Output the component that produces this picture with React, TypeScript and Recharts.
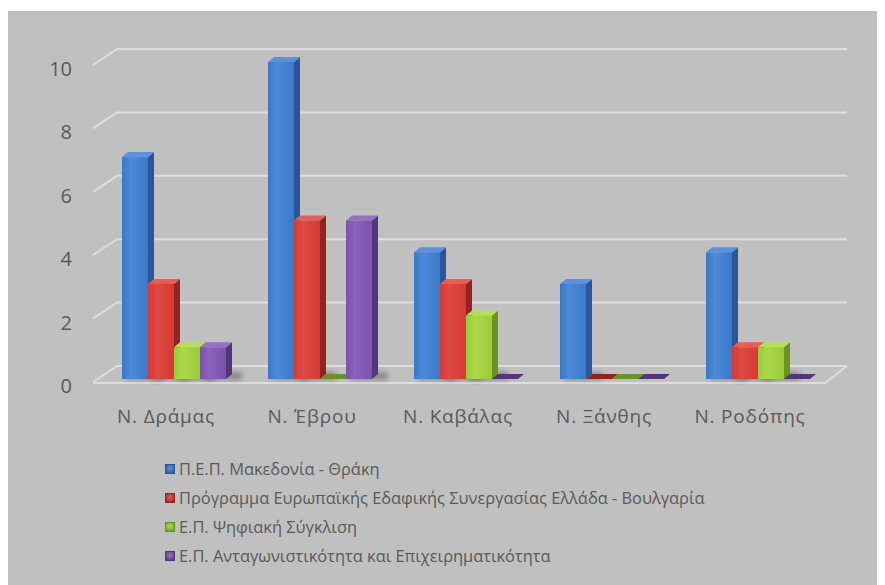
import React from "react";
import { BarChart, Bar, XAxis, YAxis, CartesianGrid, Legend } from "recharts";

const categories = ["Ν. Δράμας", "Ν. Έβρου", "Ν. Καβάλας", "Ν. Ξάνθης", "Ν. Ροδόπης"];
const seriesNames = [
  "Π.Ε.Π. Μακεδονία - Θράκη",
  "Πρόγραμμα Ευρωπαϊκής Εδαφικής Συνεργασίας Ελλάδα - Βουλγαρία",
  "Ε.Π. Ψηφιακή Σύγκλιση",
  "Ε.Π. Ανταγωνιστικότητα και Επιχειρηματικότητα",
];
const pepValues = [7, 10, 4, 3, 4];
const interregValues = [3, 5, 3, 0, 1];
const digitalValues = [1, 0, 2, 0, 1];
const competValues = [1, 5, 0, 0, 0];
const yTicks = [0, 2, 4, 6, 8, 10];

const KEYS = ["pep", "interreg", "digital", "compet"];
const COLORS = [
  { front: "#3b78c8", light: "#4d8ad8", side: "#2a5699", top: "#5a92dc" },
  { front: "#d43a33", light: "#e04a42", side: "#92231f", top: "#e65e56" },
  { front: "#9acb38", light: "#abd84a", side: "#6a9324", top: "#b6de5c" },
  { front: "#7b53ad", light: "#8a62bc", side: "#513679", top: "#9672c4" },
];

const data = categories.map((name, i) => ({
  name,
  pep: pepValues[i],
  interreg: interregValues[i],
  digital: digitalValues[i],
  compet: competValues[i],
}));

const FONT = "'Open Sans', sans-serif";
const TEXT = "#595959";
const GRID = "#dedede";
const DX = 6;
const DY = 5;
const SHIFT = 9;
const PLOT_BOTTOM = 368;

// 3D-looking box: front face, right side, top face
const Box = (props: any) => {
  const { x, y, width, height, idx } = props;
  const c = COLORS[idx];
  const fx = x + SHIFT;
  const w = width;
  const h = Math.max(height, 0);
  const base = y + h;
  if (h < 0.5) {
    return (
      <g>
        <polygon
          points={`${fx},${base} ${fx + DX},${base - DY} ${fx + w + DX},${base - DY} ${fx + w},${base}`}
          fill={c.side}
        />
      </g>
    );
  }
  return (
    <g>
      <rect x={fx + 4} y={base - 7} width={w + 12} height={8} fill="rgba(0,0,0,0.28)" filter="url(#soft)" />
      <polygon
        points={`${fx + w},${y} ${fx + w + DX},${y - DY} ${fx + w + DX},${base - DY} ${fx + w},${base}`}
        fill={c.side}
      />
      <polygon
        points={`${fx},${y} ${fx + DX},${y - DY} ${fx + w + DX},${y - DY} ${fx + w},${y}`}
        fill={c.top}
      />
      <rect x={fx} y={y} width={w} height={h} fill={`url(#grad${idx})`} />
    </g>
  );
};

// back-wall gridlines with the perspective step at the left
const gridLine = (p: any) => {
  const y = p.y1;
  const isFloor = Math.abs(y - PLOT_BOTTOM) < 1;
  return (
    <g key={`g-${y}`}>
      <path
        d={`M${p.x1} ${y + 3} L${p.x1 + 24} ${y - 13} L${p.x2 + 24} ${y - 13}`}
        stroke={GRID}
        strokeWidth={2}
        fill="none"
      />
      {isFloor && (
        <path
          d={`M${p.x1} ${y + 4} L${p.x2 + 2} ${y + 4} L${p.x2 + 24} ${y - 13}`}
          stroke={GRID}
          strokeWidth={2}
          fill="none"
        />
      )}
    </g>
  );
};

const YTick = (props: any) => {
  const { y, payload } = props;
  return (
    <text x={64} y={y + 14} textAnchor="end" fill={TEXT} fontSize={20} fontFamily={FONT}>
      {payload.value}
    </text>
  );
};

const XTick = (props: any) => {
  const { x, y, payload } = props;
  return (
    <text
      x={x}
      y={y + 44}
      textAnchor="middle"
      fill={TEXT}
      fontSize={19}
      letterSpacing={0.8}
      fontFamily={FONT}
    >
      {payload.value}
    </text>
  );
};

const LegendBox = () => (
  <div style={{ fontFamily: FONT, fontSize: 16.4, color: TEXT }}>
    {seriesNames.map((s, i) => (
      <div key={s} style={{ height: 29, display: "flex", alignItems: "center", whiteSpace: "nowrap" }}>
        <span
          style={{
            width: 8,
            height: 8,
            marginRight: 4,
            background: `radial-gradient(circle at 50% 40%, ${COLORS[i].top}, ${COLORS[i].side})`,
            border: `1px solid ${COLORS[i].side}`,
            display: "inline-block",
          }}
        />
        {s}
      </div>
    ))}
  </div>
);

export default function App() {
  return (
    <div style={{ paddingTop: 3, background: "#fff", width: 877 }}>
      <div style={{ width: 877, height: 574, background: "#c0c0c0" }}>
        <BarChart
          width={877}
          height={574}
          data={data}
          margin={{ top: 51, right: 62, left: 0, bottom: 166 }}
          barCategoryGap="13.7%"
          barGap={0}
        >
          <defs>
            {COLORS.map((c, i) => (
              <linearGradient key={i} id={`grad${i}`} x1="0" y1="0" x2="1" y2="0">
                <stop offset="0%" stopColor={c.front} />
                <stop offset="35%" stopColor={c.light} />
                <stop offset="100%" stopColor={c.front} />
              </linearGradient>
            ))}
            <filter id="soft" x="-30%" y="-100%" width="160%" height="300%">
              <feGaussianBlur stdDeviation="2.5" />
            </filter>
          </defs>
          <CartesianGrid vertical={false} horizontal={gridLine} />
          <XAxis
            dataKey="name"
            axisLine={false}
            tickLine={false}
            tickSize={0}
            tickMargin={0}
            height={40}
            interval={0}
            tick={<XTick />}
          />
          <YAxis
            domain={[0, 10]}
            ticks={yTicks}
            axisLine={false}
            tickLine={false}
            width={85}
            tick={<YTick />}
          />
          <Legend
            layout="vertical"
            align="center"
            verticalAlign="middle"
            wrapperStyle={{ left: 157, top: 443, width: 700 }}
            content={<LegendBox />}
          />
          {KEYS.map((k, i) => (
            <Bar
              key={k}
              dataKey={k}
              name={seriesNames[i]}
              fill={COLORS[i].front}
              isAnimationActive={false}
              shape={(p: any) => <Box {...p} idx={i} />}
            />
          ))}
        </BarChart>
      </div>
    </div>
  );
}
